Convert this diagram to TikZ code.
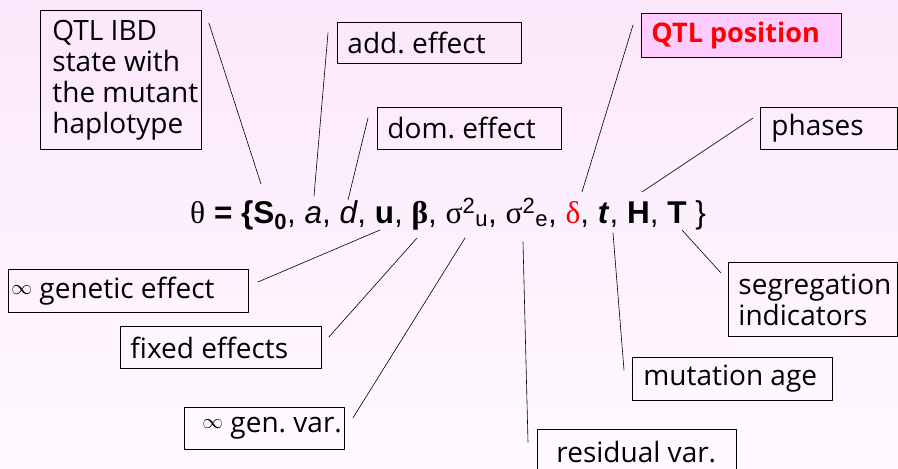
\documentclass[tikz,border=0pt]{standalone}
\usepackage{fontspec}
\setmainfont{Open Sans}
\newfontfamily\eqfont{Liberation Sans}
\newfontfamily\grk{Liberation Serif}
\definecolor{bgtop}{RGB}{251,231,251}
\definecolor{bgbot}{RGB}{255,250,255}
\definecolor{posfill}{RGB}{255,204,255}
\definecolor{posred}{RGB}{255,0,0}
% width, height, left padding, text
\newcommand{\lbltext}[4]{\parbox[c][#2pt][c]{#1pt}{\raggedright\leftskip=#3pt\relax #4}}
\newcommand{\infmark}{\raisebox{4pt}{$\scriptstyle\infty$}}
\begin{document}
\begin{tikzpicture}[x=1pt,y=-1pt,line cap=round,line join=round,
  lbl/.style={draw,line width=0.9pt,anchor=north west,inner sep=0pt,
    font=\fontsize{28}{31}\selectfont\frenchspacing},
  lead/.style={line width=0.6pt}]
  \useasboundingbox (0,0) rectangle (898,469);
  \shade[top color=bgtop,bottom color=bgbot] (0,0) rectangle (898,469);
  % labels round the parameter vector
  \node[lbl] (ibd) at (40,10) {\lbltext{161}{139}{12}{QTL IBD\\state with\\the mutant\\haplotype}};
  \node[lbl] (add) at (337,22) {\lbltext{184}{41}{10}{add. effect}};
  \node[lbl] (dom) at (377,107) {\lbltext{184}{42}{10}{dom. effect}};
  \node[lbl,fill=posfill,text=posred,font=\fontsize{27}{31}\selectfont\bfseries] (pos) at (641,13)
    {\lbltext{200}{44}{10}{QTL position}};
  \node[lbl] (phases) at (760,107) {\lbltext{137}{42}{11}{phases}};
  \node[lbl] (gen) at (8,269) {\lbltext{240}{43}{3}{\infmark\ genetic effect}};
  \node[lbl] (fix) at (120,326) {\lbltext{201}{42}{10}{fixed effects}};
  \node[lbl] (genvar) at (184,407) {\lbltext{160}{42}{18}{\infmark\ gen. var.}};
  \node[lbl] (resid) at (537,429) {\lbltext{199}{45}{19}{residual var.}};
  \node[lbl] (mut) at (632,357) {\lbltext{200}{43}{11}{mutation age}};
  \node[lbl] (seg) at (728,262) {\lbltext{169}{74}{10}{segregation\\indicators}};
  % the parameter vector
  \node[anchor=base west,inner sep=0pt,font=\eqfont\fontsize{31.5}{34}\selectfont] (theta) at (190,223)
    {{\grk θ} \textbf{= \{S\textsubscript{0}}, \textit{a}, \textit{d}, \textbf{u},
     {\grk\bfseries β}, {\grk σ}\textsuperscript{2}\textsubscript{u}, {\grk σ}\textsuperscript{2}\textsubscript{e},
     {\grk\color{posred}δ}, \textbf{\textit{t}}, \textbf{H}, \textbf{T} \}};
  \coordinate (sS) at (261,184);
  \coordinate (sa) at (314,196);
  \coordinate (sd) at (348,200);
  \coordinate (sdelta) at (582,192);
  \coordinate (sH) at (642,192);
  \coordinate (su) at (380,230);
  \coordinate (sbeta) at (417,238);
  \coordinate (ssu) at (465,238);
  \coordinate (sse) at (523,242);
  \coordinate (st) at (613,233);
  \coordinate (sT) at (682,230);
  % leader lines
  \foreach \b/\c/\dx/\dy/\s in {ibd/north east/7/13/sS, add/north west/-9/11/sa,
      dom/north west/-9/11/sd, pos/north west/-8/12/sdelta, phases/north west/-7/11/sH,
      gen/north east/9/13/su, fix/north east/7/11/sbeta, genvar/north east/8/11/ssu,
      resid/north west/-9/13/sse, mut/north west/-8/13/st, seg/north west/-7/11/sT}
    \draw[lead] ([shift={(\dx,\dy)}]\b.\c) -- (\s);
\end{tikzpicture}
\end{document}
